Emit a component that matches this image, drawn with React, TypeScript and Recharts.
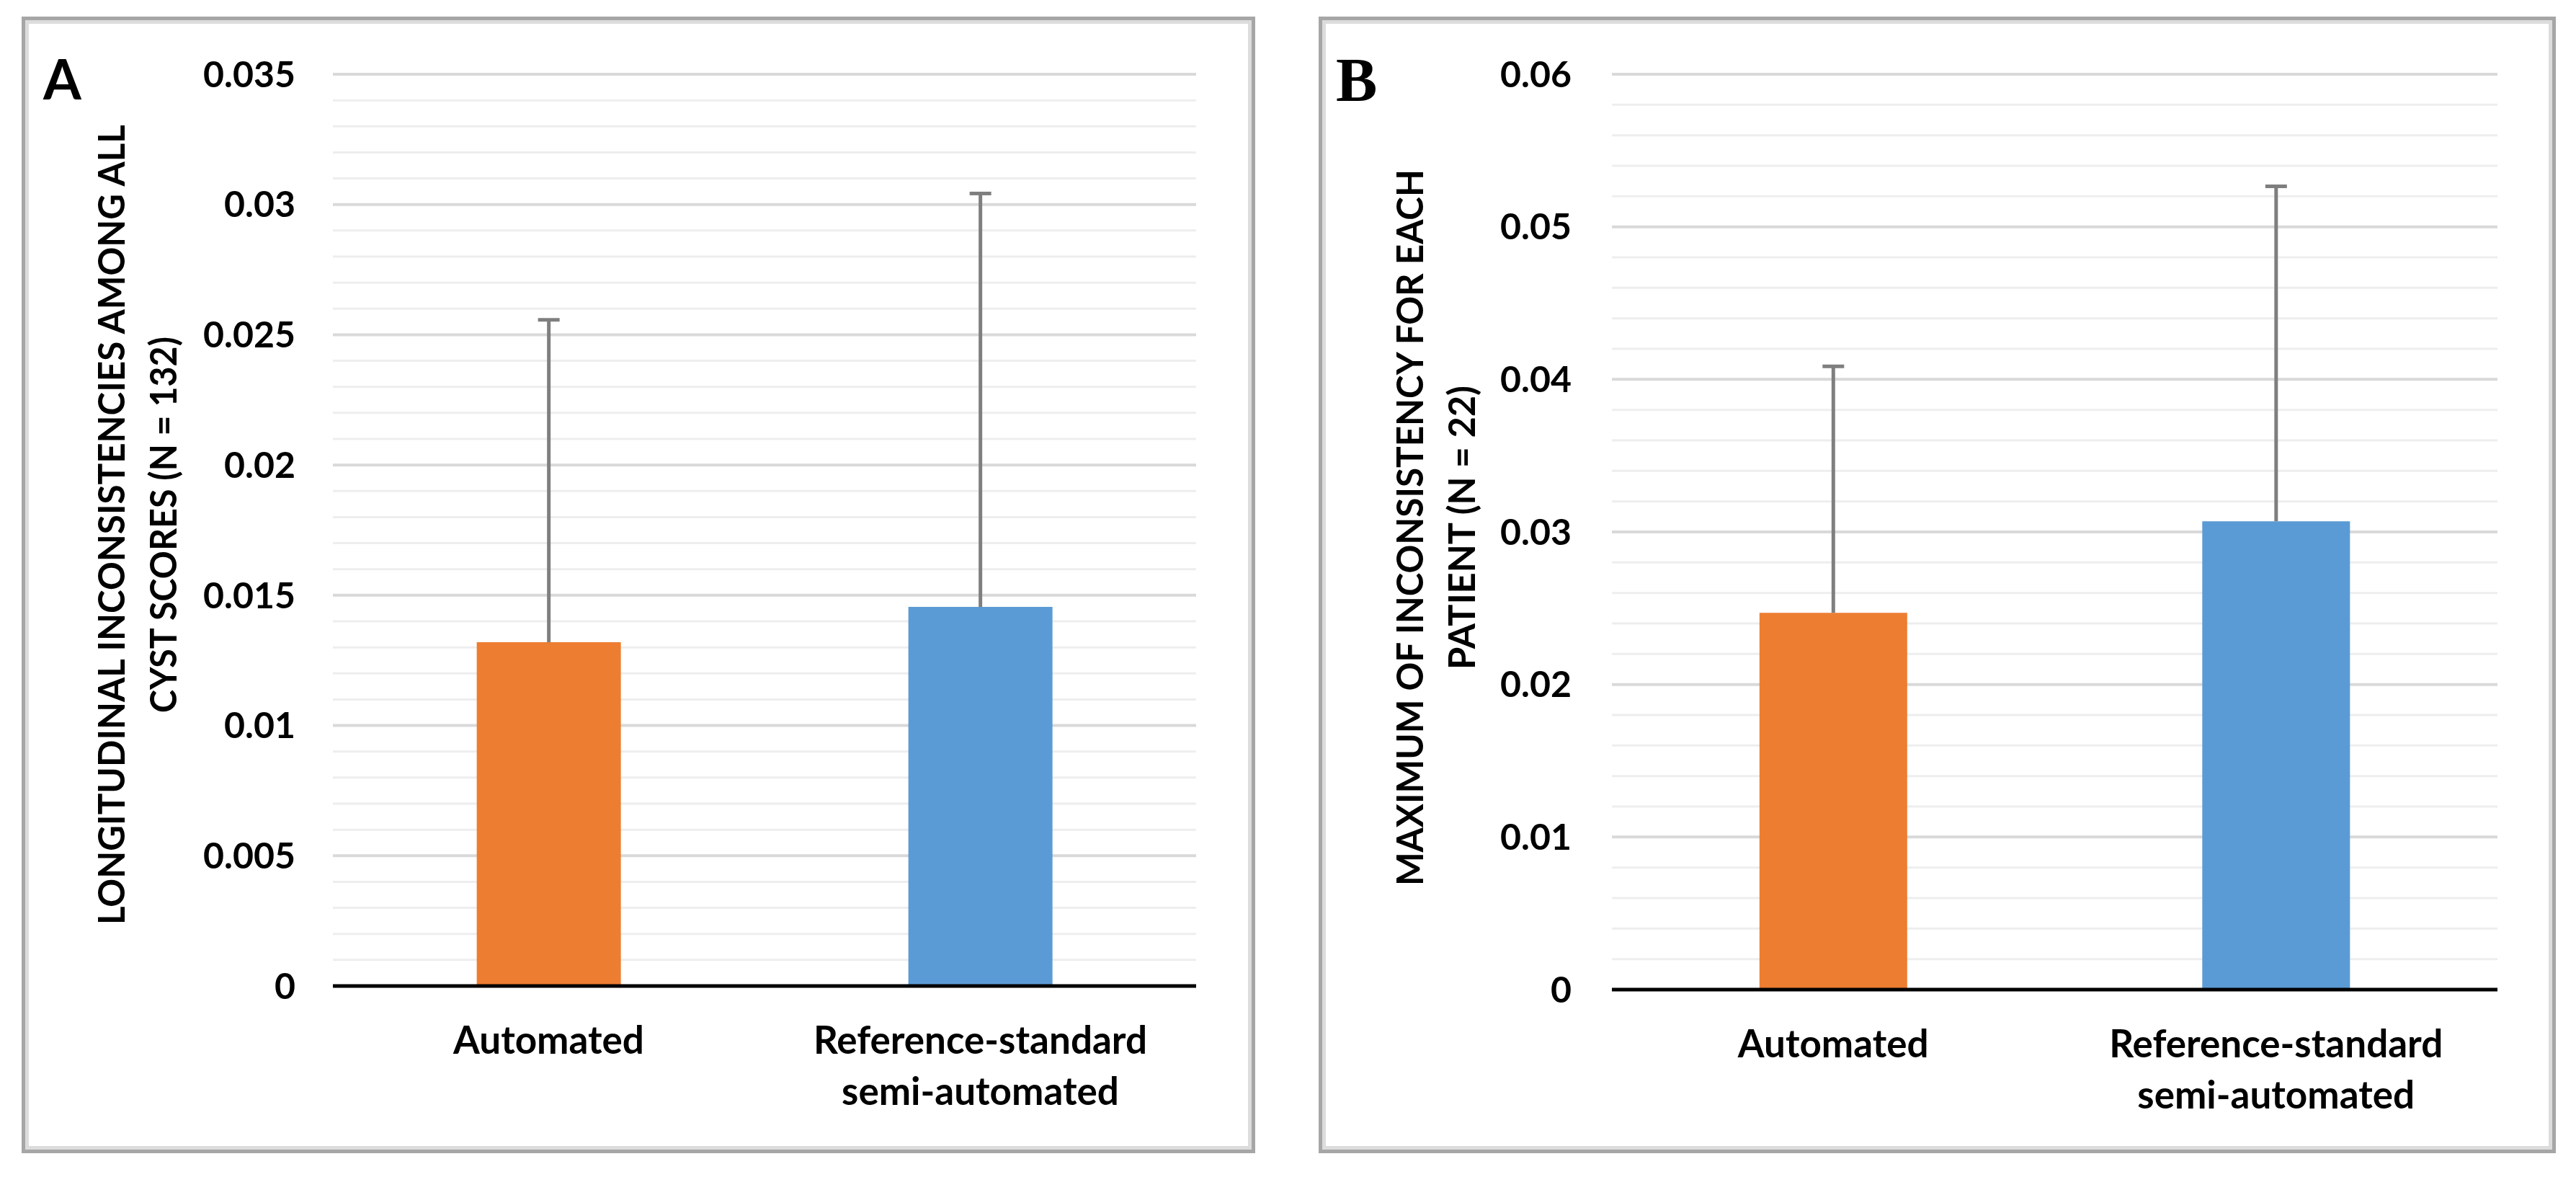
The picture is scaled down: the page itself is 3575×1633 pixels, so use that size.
import React from 'react';
import { BarChart, Bar, XAxis, YAxis, CartesianGrid, Cell, Label } from 'recharts';

// ---------------- data ----------------
const categories = ['Automated', 'Reference-standard semi-automated'];
const categoryLines: Record<string, string[]> = {
  'Automated': ['Automated'],
  'Reference-standard semi-automated': ['Reference-standard', 'semi-automated'],
};
const barColors = ['#ED7D31', '#5B9BD5'];

const panelAMeans = [0.0132, 0.01455];
const panelAErrors = [0.0124, 0.0159];
const panelATicks = [0, 0.005, 0.01, 0.015, 0.02, 0.025, 0.03, 0.035];
const panelATickLabels = ['0', '0.005', '0.01', '0.015', '0.02', '0.025', '0.03', '0.035'];
const panelAMinorStep = 0.001;
const panelATitle = ['LONGITUDINAL INCONSISTENCIES AMONG ALL', 'CYST SCORES (N = 132)'];

const panelBMeans = [0.0247, 0.0307];
const panelBErrors = [0.0162, 0.022];
const panelBTicks = [0, 0.01, 0.02, 0.03, 0.04, 0.05, 0.06];
const panelBTickLabels = ['0', '0.01', '0.02', '0.03', '0.04', '0.05', '0.06'];
const panelBMinorStep = 0.002;
const panelBTitle = ['MAXIMUM OF INCONSISTENCY FOR EACH', 'PATIENT (N = 22)'];

// ---------------- helpers ----------------
const FONT = 'Lato, "Open Sans", sans-serif';

function buildData(means: number[], errors: number[]) {
  return categories.map((name, i) => ({ name, mean: means[i], err: errors[i] }));
}

function minorValues(max: number, step: number) {
  const out: number[] = [];
  const n = Math.round(max / step);
  for (let i = 1; i < n; i++) out.push(Math.round(i * step * 1e6) / 1e6);
  return out;
}

const ErrorShape = (props: any) => {
  const { x, y, width, height } = props;
  if (x == null || y == null) return null;
  const cx = x + width / 2;
  return (
    <g>
      <line x1={cx} x2={cx} y1={y + height} y2={y} stroke="#7f7f7f" strokeWidth={5} />
      <line x1={cx - 15} x2={cx + 15} y1={y + 1} y2={y + 1} stroke="#7f7f7f" strokeWidth={5} />
    </g>
  );
};

const XTick = (props: any) => {
  const { x, y, payload } = props;
  const lines = categoryLines[payload.value] || [payload.value];
  return (
    <g>
      {lines.map((l, i) => (
        <text
          key={i}
          x={x}
          y={y + 94 + i * 71}
          textAnchor="middle"
          fontSize={53}
          fontWeight={700}
          fill="#000"
          fontFamily={FONT}
        >
          {l}
        </text>
      ))}
    </g>
  );
};

type PanelProps = {
  left: number;
  top: number;
  width: number;
  height: number;
  margin: { top: number; right: number; bottom: number; left: number };
  yAxisWidth: number;
  tickMargin: number;
  means: number[];
  errors: number[];
  ticks: number[];
  tickLabels: string[];
  minorStep: number;
  title: string[];
  titleBaselines: number[];
  titleCenterY: number;
  titleLengths: number[];
};

const Panel = (p: PanelProps) => {
  const data = buildData(p.means, p.errors);
  const max = p.ticks[p.ticks.length - 1];
  const minors = minorValues(max, p.minorStep);
  const fmt = (v: number) => {
    const idx = p.ticks.findIndex((t) => Math.abs(t - v) < 1e-9);
    return idx >= 0 ? p.tickLabels[idx] : '';
  };
  const titleContent = () => (
    <g>
      {p.title.map((t, i) => (
        <text
          key={i}
          transform={`translate(${p.titleBaselines[i]}, ${p.titleCenterY}) rotate(-90)`}
          textAnchor="middle"
          fontSize={52}
          fontWeight={700}
          fill="#000"
          fontFamily={FONT}
          textLength={p.titleLengths[i]}
          lengthAdjust="spacingAndGlyphs"
        >
          {t}
        </text>
      ))}
    </g>
  );
  return (
    <div
      style={{
        position: 'absolute',
        left: p.left,
        top: p.top,
        width: p.width,
        height: p.height,
        boxSizing: 'border-box',
        border: '5px solid #a6a6a6',
        boxShadow: 'inset 0 0 0 5px #dcdcdc',
        background: '#fff',
      }}
    >
      <div style={{ position: 'absolute', left: -5, top: -5 }}>
        <BarChart
          width={p.width}
          height={p.height}
          data={data}
          margin={p.margin}
          barCategoryGap="33.33%"
          style={{ fontFamily: FONT }}
        >
          <CartesianGrid
            vertical={false}
            horizontalValues={minors}
            stroke="#eeeeee"
            strokeWidth={3}
          />
          <CartesianGrid
            vertical={false}
            horizontalValues={p.ticks.slice(1)}
            stroke="#d9d9d9"
            strokeWidth={4}
          />
          <XAxis
            dataKey="name"
            axisLine={{ stroke: '#000', strokeWidth: 5 }}
            tickLine={false}
            tickSize={0}
            tickMargin={0}
            interval={0}
            height={200}
            tick={<XTick />}
          />
          <YAxis
            type="number"
            domain={[0, max]}
            ticks={p.ticks}
            interval={0}
            width={p.yAxisWidth}
            axisLine={false}
            tickLine={false}
            tickSize={0}
            tickMargin={p.tickMargin}
            tickFormatter={fmt}
            tick={{ fontSize: 50, fontWeight: 700, fill: '#000', fontFamily: FONT }}
          >
            <Label content={titleContent} />
          </YAxis>
          <Bar dataKey="mean" stackId="s" isAnimationActive={false}>
            {data.map((d, i) => (
              <Cell key={d.name} fill={barColors[i]} />
            ))}
          </Bar>
          <Bar dataKey="err" stackId="s" isAnimationActive={false} shape={<ErrorShape />} fill="none" />
        </BarChart>
      </div>
    </div>
  );
};

export default function App() {
  return (
    <div style={{ position: 'absolute', left: 0, top: 0, width: 3575, height: 1633, background: '#fff', overflow: 'hidden' }}>
      <Panel
        left={30}
        top={23}
        width={1712}
        height={1577}
        margin={{ top: 80, right: 82, bottom: 32, left: 0 }}
        yAxisWidth={432}
        tickMargin={52}
        means={panelAMeans}
        errors={panelAErrors}
        ticks={panelATicks}
        tickLabels={panelATickLabels}
        minorStep={panelAMinorStep}
        title={panelATitle}
        titleBaselines={[143, 215]}
        titleCenterY={705}
        titleLengths={[1110, 522]}
      />
      <Panel
        left={1830}
        top={23}
        width={1717}
        height={1577}
        margin={{ top: 80, right: 81, bottom: 27, left: 0 }}
        yAxisWidth={407}
        tickMargin={56}
        means={panelBMeans}
        errors={panelBErrors}
        ticks={panelBTicks}
        tickLabels={panelBTickLabels}
        minorStep={panelBMinorStep}
        title={panelBTitle}
        titleBaselines={[145, 217]}
        titleCenterY={709}
        titleLengths={[994, 394]}
      />
      <svg width={3575} height={1633} style={{ position: 'absolute', left: 0, top: 0, pointerEvents: 'none' }}>
        <text x={60} y={138} fontSize={76} fontWeight={700} fill="#000" fontFamily={FONT}>A</text>
        <text x={1854} y={140} fontSize={86} fontWeight={700} fill="#000" fontFamily='"Liberation Serif", "DejaVu Serif", serif'>B</text>
      </svg>
    </div>
  );
}
